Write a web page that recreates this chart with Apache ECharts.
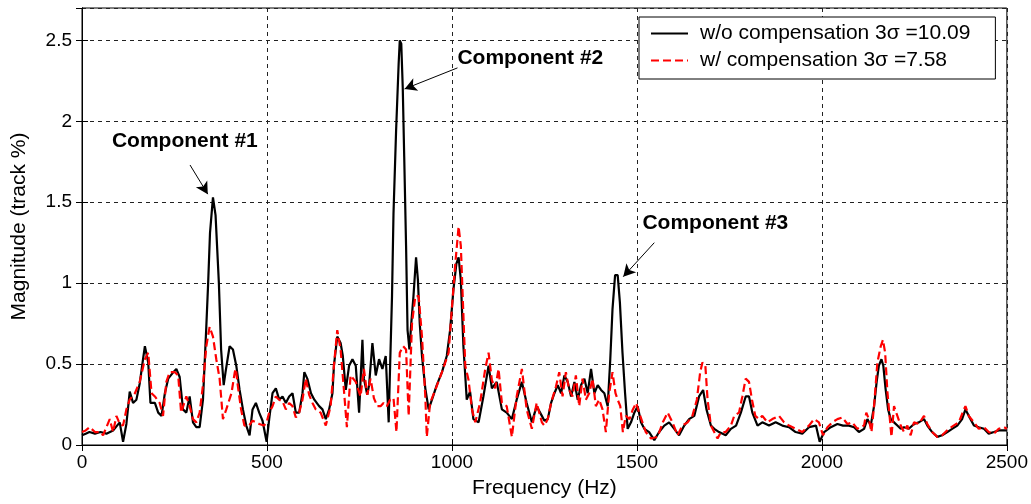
<!DOCTYPE html>
<html>
<head>
<meta charset="utf-8">
<script src="https://cdn.jsdelivr.net/npm/echarts@6/dist/echarts.min.js"></script>
<style>
html,body{margin:0;padding:0;background:#fff;}
#chart{width:1031px;height:504px;}
</style>
</head>
<body>
<div id="chart"></div>
<script>
// ---- data ----
const xTicks = [0, 500, 1000, 1500, 2000, 2500];
const yTicks = [0, 0.5, 1, 1.5, 2, 2.5];

const blackName = 'w/o compensation 3\u03c3 =10.09';
const redName = 'w/ compensation 3\u03c3 =7.58';

const blackFreq = [0,10,20,35,50,66,84,102,111,120,129,138,147,156,165,170,179,185,197,206,215,224,233,247,255,264,273,282,291,300,309,318,327,336,341,346,354,361,370,376,383,388,399,408,417,426,435,444,453,461,470,479,488,499,506,515,524,533,542,551,560,569,578,587,596,601,609,619,628,641,650,659,668,677,681,690,699,705,713,722,731,740,749,758,762,771,776,785,794,803,812,821,829,833,838,842,849,856,859,863,867,871,876,880,885,890,896,903,908,913,919,928,937,946,959,973,986,995,1004,1012,1018,1024,1031,1040,1049,1058,1072,1085,1099,1108,1121,1135,1148,1162,1175,1189,1202,1216,1229,1243,1250,1259,1268,1277,1286,1295,1304,1313,1322,1331,1340,1349,1358,1367,1376,1385,1394,1403,1412,1421,1428,1434,1441,1448,1454,1461,1468,1475,1484,1493,1502,1511,1520,1533,1547,1560,1574,1587,1601,1614,1628,1641,1655,1668,1679,1688,1700,1709,1722,1740,1754,1768,1781,1794,1803,1812,1826,1839,1857,1875,1893,1911,1929,1947,1965,1984,1994,2006,2024,2042,2057,2073,2087,2100,2114,2123,2132,2141,2148,2154,2161,2166,2172,2179,2186,2195,2204,2213,2222,2235,2249,2262,2276,2285,2298,2312,2325,2339,2352,2366,2379,2388,2397,2411,2424,2438,2451,2465,2478,2492,2500];
const blackMag = [0.06,0.07,0.08,0.07,0.08,0.07,0.09,0.14,0.02,0.13,0.33,0.26,0.28,0.38,0.53,0.61,0.51,0.26,0.26,0.20,0.18,0.32,0.41,0.45,0.47,0.42,0.22,0.20,0.30,0.14,0.11,0.11,0.28,0.73,1.00,1.31,1.53,1.42,1.00,0.59,0.37,0.45,0.61,0.59,0.49,0.34,0.22,0.12,0.06,0.22,0.26,0.20,0.15,0.02,0.16,0.32,0.35,0.28,0.30,0.26,0.30,0.32,0.20,0.20,0.32,0.45,0.41,0.32,0.28,0.24,0.22,0.16,0.22,0.32,0.49,0.67,0.63,0.55,0.34,0.49,0.53,0.49,0.20,0.65,0.41,0.31,0.37,0.63,0.43,0.53,0.47,0.55,0.14,0.50,0.92,1.43,1.94,2.36,2.50,2.48,2.21,1.78,1.23,0.71,0.59,0.75,0.92,1.16,1.02,0.75,0.55,0.35,0.22,0.28,0.37,0.45,0.55,0.71,0.96,1.12,1.16,1.02,0.61,0.28,0.33,0.16,0.14,0.30,0.49,0.35,0.39,0.22,0.20,0.16,0.28,0.39,0.26,0.14,0.24,0.18,0.15,0.16,0.26,0.32,0.37,0.32,0.43,0.39,0.30,0.39,0.28,0.37,0.41,0.32,0.47,0.32,0.37,0.34,0.32,0.24,0.53,0.84,1.05,1.05,0.88,0.57,0.32,0.10,0.14,0.20,0.24,0.14,0.10,0.08,0.03,0.08,0.12,0.14,0.10,0.06,0.12,0.16,0.18,0.30,0.34,0.22,0.12,0.10,0.08,0.06,0.10,0.12,0.20,0.30,0.30,0.20,0.12,0.14,0.12,0.14,0.12,0.11,0.08,0.07,0.11,0.12,0.02,0.08,0.11,0.13,0.12,0.12,0.11,0.08,0.10,0.16,0.12,0.24,0.39,0.49,0.53,0.49,0.35,0.22,0.16,0.14,0.12,0.10,0.11,0.10,0.13,0.14,0.16,0.12,0.08,0.05,0.06,0.08,0.10,0.12,0.16,0.22,0.18,0.12,0.11,0.10,0.07,0.08,0.09,0.09,0.09];

const redFreq = [0,10,21,35,50,57,75,84,93,102,111,120,129,143,156,170,179,188,197,210,219,228,237,251,260,268,282,291,300,309,318,327,336,345,354,363,372,381,390,404,413,416,421,430,439,452,461,470,479,492,499,506,515,524,533,542,551,560,569,578,587,596,605,614,623,632,645,659,672,681,690,699,708,716,726,740,753,762,771,780,789,798,807,815,824,833,842,850,859,868,876,883,892,901,910,919,928,932,941,955,973,991,1000,1009,1018,1024,1031,1036,1045,1054,1063,1076,1090,1099,1108,1117,1126,1135,1148,1162,1175,1189,1202,1216,1229,1243,1250,1259,1268,1281,1290,1299,1308,1317,1326,1335,1344,1353,1362,1371,1380,1389,1398,1407,1416,1425,1434,1442,1448,1455,1462,1470,1480,1489,1498,1506,1515,1524,1538,1556,1570,1583,1596,1610,1623,1637,1650,1662,1671,1677,1685,1691,1700,1709,1718,1727,1740,1754,1763,1776,1785,1794,1803,1811,1820,1830,1839,1853,1866,1884,1898,1911,1929,1947,1965,1979,1992,2003,2015,2028,2042,2055,2069,2082,2096,2114,2120,2127,2134,2141,2150,2159,2165,2171,2177,2183,2188,2195,2204,2213,2222,2231,2240,2249,2262,2276,2285,2298,2312,2325,2343,2356,2370,2384,2388,2397,2411,2424,2438,2451,2465,2478,2492,2500];
const redMag = [0.08,0.09,0.11,0.08,0.08,0.06,0.16,0.08,0.18,0.13,0.12,0.22,0.28,0.32,0.39,0.53,0.57,0.32,0.30,0.26,0.18,0.39,0.45,0.45,0.43,0.20,0.30,0.24,0.16,0.14,0.20,0.37,0.61,0.73,0.67,0.53,0.41,0.16,0.22,0.32,0.45,0.47,0.37,0.22,0.12,0.12,0.15,0.14,0.13,0.12,0.14,0.20,0.24,0.30,0.28,0.27,0.22,0.26,0.24,0.17,0.20,0.28,0.41,0.31,0.26,0.22,0.20,0.12,0.24,0.49,0.71,0.59,0.34,0.11,0.43,0.39,0.30,0.47,0.31,0.41,0.29,0.24,0.24,0.26,0.24,0.28,0.29,0.08,0.57,0.61,0.59,0.18,0.75,0.92,0.92,0.67,0.30,0.05,0.26,0.34,0.45,0.57,0.85,1.12,1.35,1.23,0.80,0.49,0.40,0.22,0.14,0.26,0.47,0.57,0.40,0.35,0.47,0.26,0.24,0.05,0.30,0.47,0.22,0.10,0.26,0.14,0.12,0.16,0.26,0.36,0.45,0.30,0.45,0.34,0.30,0.43,0.24,0.41,0.28,0.32,0.41,0.24,0.28,0.22,0.08,0.32,0.45,0.32,0.28,0.24,0.08,0.18,0.16,0.22,0.26,0.20,0.14,0.08,0.04,0.05,0.14,0.20,0.14,0.06,0.12,0.14,0.18,0.28,0.45,0.51,0.49,0.28,0.12,0.08,0.04,0.08,0.08,0.12,0.18,0.20,0.30,0.41,0.39,0.28,0.18,0.16,0.18,0.14,0.16,0.18,0.14,0.12,0.10,0.08,0.12,0.16,0.14,0.06,0.11,0.14,0.16,0.17,0.13,0.14,0.10,0.12,0.20,0.16,0.08,0.24,0.51,0.61,0.65,0.57,0.33,0.18,0.05,0.24,0.18,0.12,0.08,0.12,0.06,0.14,0.13,0.18,0.13,0.08,0.05,0.06,0.10,0.12,0.14,0.22,0.24,0.18,0.14,0.10,0.11,0.08,0.07,0.10,0.11,0.10];

// annotations
const annoText = ['Component #1', 'Component #2', 'Component #3'];
const annoTextPos = [[278, 1.88], [1212, 2.39], [1712, 1.37]];
const annoArrowFrom = [[292, 1.73], [1015, 2.33], [1547, 1.25]];
const annoArrowTo = [[340, 1.55], [872, 2.20], [1463, 1.04]];

// ---- build ----
const zip = (a, b) => a.map((v, i) => [v, b[i]]);
const FONT = '"Liberation Sans", Arial, sans-serif';
const chart = echarts.init(document.getElementById('chart'), null, {renderer: 'canvas'});

const xMin = xTicks[0], xMax = xTicks[xTicks.length - 1], xStep = xTicks[1] - xTicks[0];
const yMin = yTicks[0], yStep = yTicks[1] - yTicks[0];

const commonX = {type: 'value', min: xMin, max: xMax, interval: xStep};
const commonY = {type: 'value', min: yMin, max: 2.7, interval: yStep};

chart.setOption({
  animation: false,
  backgroundColor: '#fff',
  grid: {left: 82, right: 24, top: 8, bottom: 58, show: true, borderColor: '#000', borderWidth: 1},
  legend: {
    show: true,
    orient: 'vertical', left: 639, top: 17,
    backgroundColor: '#fff', borderColor: '#000', borderWidth: 1,
    padding: [6, 25, 8, 11],
    itemWidth: 37, itemHeight: 22, itemGap: 6,
    itemStyle: {opacity: 0},
    textStyle: {fontFamily: FONT, fontSize: 21, color: '#000', padding: [0, 0, 0, 7]},
    data: [blackName, redName]
  },
  xAxis: [
    Object.assign({}, commonX, {
      position: 'bottom',
      name: 'Frequency (Hz)', nameLocation: 'middle', nameGap: 33,
      nameTextStyle: {fontFamily: FONT, fontSize: 21, color: '#000'},
      axisLine: {lineStyle: {color: '#000', width: 1}},
      axisTick: {inside: true, length: 6, lineStyle: {color: '#000'}},
      axisLabel: {fontFamily: FONT, fontSize: 19, color: '#000', margin: 8, formatter: v => String(v)},
      splitLine: {show: true, lineStyle: {color: '#222', type: [4, 4], width: 1}}
    }),
    Object.assign({}, commonX, {
      position: 'top',
      axisLine: {lineStyle: {color: '#000'}},
      axisTick: {inside: true, length: 6, lineStyle: {color: '#000'}},
      axisLabel: {show: false}, splitLine: {show: false}
    })
  ],
  yAxis: [
    Object.assign({}, commonY, {
      position: 'left',
      name: 'Magnitude (track %)', nameLocation: 'middle', nameGap: 52,
      nameTextStyle: {fontFamily: FONT, fontSize: 21, color: '#000'},
      axisLine: {lineStyle: {color: '#000', width: 1}},
      axisTick: {inside: true, length: 6, lineStyle: {color: '#000'}},
      axisLabel: {fontFamily: FONT, fontSize: 19, color: '#000', margin: 10, showMaxLabel: false,
        formatter: v => (Math.abs(v / yStep - Math.round(v / yStep)) < 1e-6 ? String(v) : '')},
      splitLine: {show: true, lineStyle: {color: '#222', type: [4, 4], width: 1}}
    }),
    Object.assign({}, commonY, {
      position: 'right',
      axisLine: {lineStyle: {color: '#000'}},
      axisTick: {inside: true, length: 6, lineStyle: {color: '#000'}},
      axisLabel: {show: false}, splitLine: {show: false}
    })
  ],
  series: [
    {
      name: blackName, type: 'line', xAxisIndex: 0, yAxisIndex: 0,
      data: zip(blackFreq, blackMag), showSymbol: false, symbol: 'none',
      lineStyle: {color: '#000', width: 2.2}, itemStyle: {color: '#000'},
      z: 2,
      markPoint: {
        silent: true, symbol: 'circle', symbolSize: 0,
        label: {show: true, position: 'inside', fontFamily: FONT, fontWeight: 'bold', fontSize: 21, color: '#000'},
        data: annoText.map((t, i) => ({coord: annoTextPos[i], value: t, label: {formatter: t}}))
      },
      markLine: {
        silent: true, symbol: ['none', 'arrow'], symbolSize: [10, 12],
        label: {show: false},
        lineStyle: {color: '#000', width: 1, type: 'solid'},
        data: annoArrowFrom.map((p, i) => [{coord: p}, {coord: annoArrowTo[i]}])
      }
    },
    {
      name: redName, type: 'line', xAxisIndex: 0, yAxisIndex: 0,
      data: zip(redFreq, redMag), showSymbol: false, symbol: 'none',
      lineStyle: {color: '#ff0000', width: 2.2, type: [8, 4]}, itemStyle: {color: '#ff0000'},
      z: 3
    }
  ]
});
</script>
</body>
</html>
